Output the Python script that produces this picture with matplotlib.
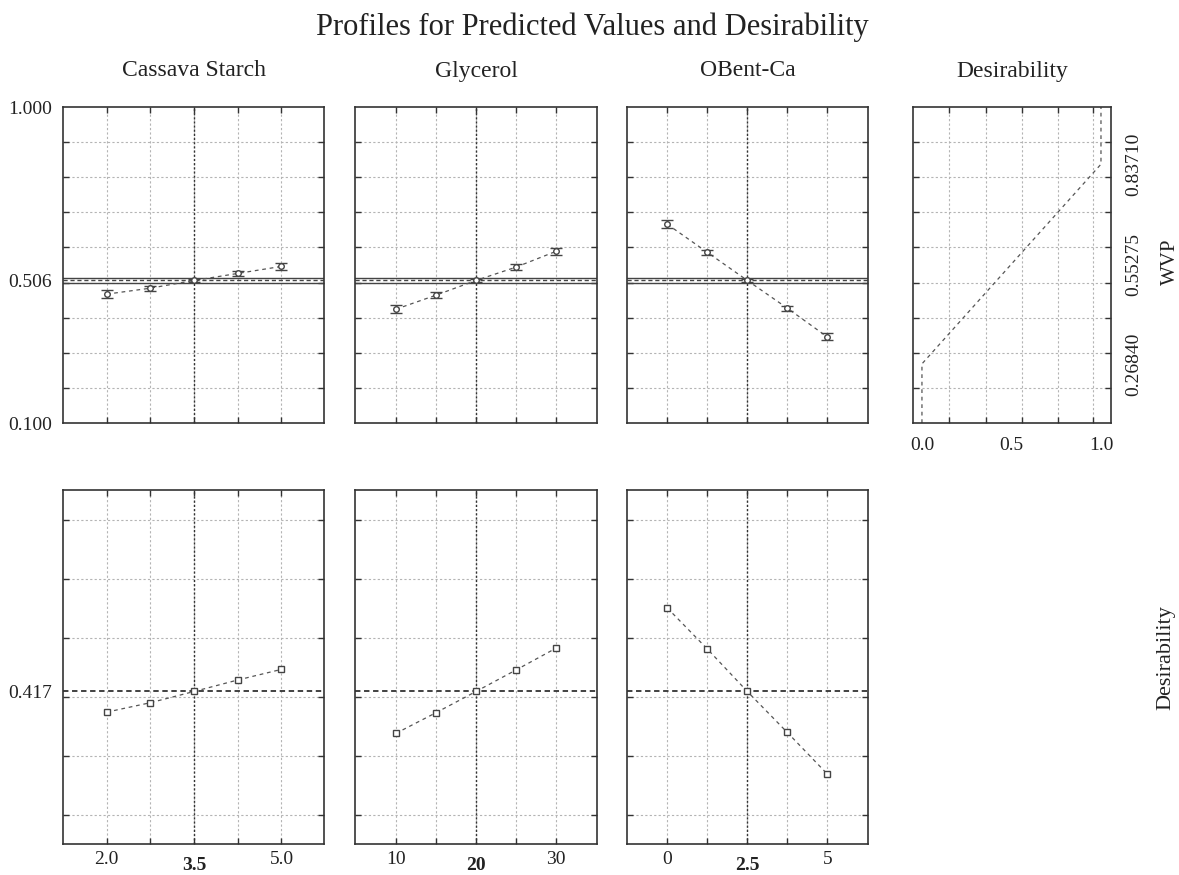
import numpy as np
import matplotlib
matplotlib.use("Agg")
import matplotlib.pyplot as plt
import matplotlib.transforms as mtransforms

plt.rcParams['font.family'] = ['Liberation Serif', 'DejaVu Serif']

# factor levels
cs_levels = [2.0, 2.75, 3.5, 4.25, 5.0]
gly_levels = [10, 15, 20, 25, 30]
ob_levels = [0, 1.25, 2.5, 3.75, 5]
factor_names = ['Cassava Starch', 'Glycerol', 'OBent-Ca']
level_labels = [['2.0', '3.5', '5.0'], ['10', '20', '30'], ['0', '2.5', '5']]

# predicted WVP with error bars
wvp_cs = [0.467, 0.484, 0.506, 0.526, 0.546]
wvp_gly = [0.424, 0.464, 0.506, 0.544, 0.589]
wvp_ob = [0.666, 0.586, 0.506, 0.427, 0.345]
err_cs = [0.011, 0.007, 0.003, 0.008, 0.009]
err_gly = [0.012, 0.008, 0.003, 0.008, 0.010]
err_ob = [0.011, 0.008, 0.003, 0.007, 0.010]
wvp_current = 0.506
wvp_band = [0.4995, 0.5125]

# desirability
des_cs = [0.347, 0.379, 0.417, 0.456, 0.492]
des_gly = [0.275, 0.345, 0.417, 0.490, 0.564]
des_ob = [0.700, 0.561, 0.417, 0.278, 0.137]
des_current = 0.417

# desirability function for WVP
dfun_d = [0.0, 0.0, 1.0, 1.0]
dfun_wvp = [0.1, 0.2684, 0.8371, 1.0]
dfun_ticks = [0.26840, 0.55275, 0.83710]

levels = [cs_levels, gly_levels, ob_levels]
wvps = [wvp_cs, wvp_gly, wvp_ob]
errs = [err_cs, err_gly, err_ob]
dess = [des_cs, des_gly, des_ob]
xlims = [(1.25, 5.73), (4.9, 35.1), (-1.26, 6.27)]

W, H = 1179, 875
fig = plt.figure(figsize=(W / 100, H / 100), dpi=100)

def rect(x0, x1, y0, y1):
    return [x0 / W, 1 - y1 / H, (x1 - x0) / W, (y1 - y0) / H]

cols = [(63, 324), (355, 597), (627, 868), (913, 1111)]
top_y = (107, 423)
bot_y = (490, 844)
sub_off = 1 + 36 / (top_y[1] - top_y[0])

gridkw = dict(color='#b4b4b4', linestyle=(0, (2, 2)), linewidth=0.8)
txt = '#222222'
wvp_grid = [0.2, 0.3, 0.4, 0.5, 0.6, 0.7, 0.8, 0.9]
des_grid = [0.0, 0.2, 0.4, 0.6, 0.8, 1.0]

def style(ax):
    for s in ax.spines.values():
        s.set_linewidth(1.2)
        s.set_color('#333333')
    ax.tick_params(which='minor', direction='in', length=4, width=1,
                   top=True, right=True, color='#333333')
    ax.tick_params(which='major', length=0, labelsize=14, colors=txt, pad=8)
    ax.grid(which='minor', **gridkw)
    ax.grid(which='major', visible=False)
    ax.set_axisbelow(True)

for i in range(3):
    x0, x1 = cols[i]
    lv = levels[i]
    # top row: WVP
    ax = fig.add_axes(rect(x0, x1, *top_y))
    ax.set_xlim(xlims[i])
    ax.set_ylim(0.1, 1.0)
    ax.set_xticks(lv, minor=True)
    ax.set_yticks(wvp_grid, minor=True)
    ax.set_xticks([])
    if i == 0:
        ax.set_yticks([0.1, wvp_current, 1.0], ['0.100', '0.506', '1.000'])
    else:
        ax.set_yticks([])
    style(ax)
    ax.axvline(lv[2], color='#333333', linestyle=(0, (1.5, 1.5)), linewidth=1.0)
    for b in wvp_band:
        ax.axhline(b, color='#444444', linewidth=1.0)
    ax.axhline(wvp_current, color='#444444', linestyle=(0, (3, 2)), linewidth=1.0)
    ax.plot(lv, wvps[i], color='#555555', linestyle=(0, (3, 3)), linewidth=0.9)
    ax.errorbar(lv, wvps[i], yerr=errs[i], fmt='o', ms=4, mfc='white',
                mec='#444444', ecolor='#444444', elinewidth=1.0, capsize=4.5,
                capthick=1.0)
    ax.text(0.5, sub_off, factor_names[i], transform=ax.transAxes,
            ha='center', va='center', fontsize=17, color=txt)

    # bottom row: desirability
    ax2 = fig.add_axes(rect(x0, x1, *bot_y))
    ax2.set_xlim(xlims[i])
    ax2.set_ylim(-0.1, 1.1)
    ax2.set_xticks(lv, minor=True)
    ax2.set_yticks(des_grid, minor=True)
    ax2.set_xticks([])
    if i == 0:
        ax2.set_yticks([des_current], ['0.417'])
    else:
        ax2.set_yticks([])
    style(ax2)
    ax2.axvline(lv[2], color='#333333', linestyle=(0, (1.5, 1.5)), linewidth=1.0)
    ax2.axhline(des_current, color='#333333', linestyle=(0, (3, 2)), linewidth=1.3)
    ax2.plot(lv, dess[i], color='#555555', linestyle=(0, (3, 3)), linewidth=0.9,
             marker='s', ms=5, mfc='white', mec='#444444')
    tr = mtransforms.blended_transform_factory(ax2.transData, ax2.transAxes)
    h2 = bot_y[1] - bot_y[0]
    for xv, lab, bold in zip([lv[0], lv[2], lv[4]], level_labels[i], [False, True, False]):
        ax2.text(xv, -(22 if bold else 16) / h2, lab, transform=tr, ha='center',
                 va='center', fontsize=14, color=txt,
                 fontweight='bold' if bold else 'normal')

# desirability function panel
x0, x1 = cols[3]
axd = fig.add_axes(rect(x0, x1, *top_y))
axd.set_xlim(-0.05, 1.056)
axd.set_ylim(0.1, 1.0)
axd.set_xticks([0.15, 0.36, 0.56, 0.76, 0.955], minor=True)
axd.set_yticks(wvp_grid, minor=True)
axd.set_xticks([0.0, 0.5, 1.0], ['0.0', '0.5', '1.0'])
axd.yaxis.tick_right()
axd.set_yticks(dfun_ticks, ['%.5f' % v for v in dfun_ticks])
style(axd)
axd.tick_params(which='minor', left=True)
axd.tick_params(axis='x', which='major', pad=10)
axd.tick_params(axis='y', which='major', rotation=90, pad=10)
for lab in axd.get_yticklabels():
    lab.set_va('center')
axd.plot(dfun_d, dfun_wvp, color='#555555', linestyle=(0, (3, 3)), linewidth=0.9)
axd.text(0.5, sub_off, 'Desirability', transform=axd.transAxes,
         ha='center', va='center', fontsize=17, color=txt)

fig.text(592 / W, 1 - 27 / H, 'Profiles for Predicted Values and Desirability',
         ha='center', va='center', fontsize=22, color=txt)
fig.text(1170 / W, 1 - 262 / H, 'WVP', rotation=90, ha='center', va='center',
         fontsize=15, color=txt)
fig.text(1166 / W, 1 - 658 / H, 'Desirability', rotation=90, ha='center',
         va='center', fontsize=16, color=txt)

fig.savefig('out.png', dpi=100)
